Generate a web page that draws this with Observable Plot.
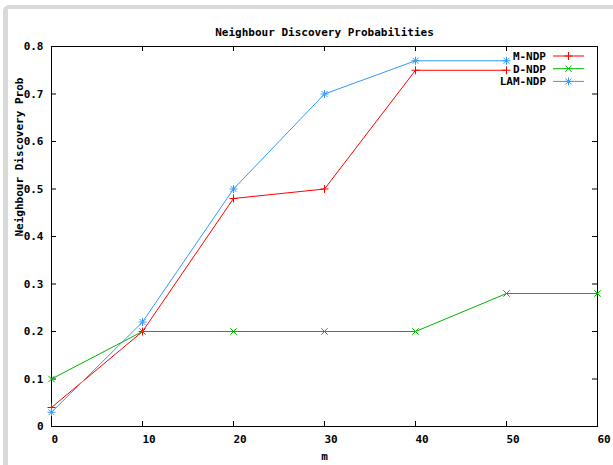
<!DOCTYPE html>
<html>
<head>
<meta charset="utf-8">
<script src="https://cdn.jsdelivr.net/npm/d3@7"></script>
<script src="https://cdn.jsdelivr.net/npm/@observablehq/plot@0.6"></script>
<style>
  html, body { margin: 0; padding: 0; background: #fff; }
  #wrap { position: relative; width: 613px; height: 465px; overflow: hidden; background: #fff; }
  #border { position: absolute; left: 3px; top: 5px; width: 640px; height: 500px;
    border-top: 4px solid #d9d9d9; border-left: 5px solid #d9d9d9; border-top-left-radius: 6px; box-sizing: border-box; }
  #chart { position: absolute; left: 0; top: 0; }
  #legend { position: absolute; left: 0; top: 0; }
</style>
</head>
<body>
<div id="wrap">
  <div id="border"></div>
  <div id="chart"></div>
  <svg id="legend" width="613" height="465"></svg>
</div>
<script>
const titleText = "Neighbour Discovery Probabilities";
const xLabel = "m";
const yLabel = "Neighbour Discovery Prob";
const seriesNames = ["M-NDP", "D-NDP", "LAM-NDP"];
const seriesColors = ["#ff0000", "#00b400", "#3399ff"];
const xTicks = [0, 10, 20, 30, 40, 50, 60];
const yTicks = [0, 0.1, 0.2, 0.3, 0.4, 0.5, 0.6, 0.7, 0.8];
const yTickLabels = ["0", "0.1", "0.2", "0.3", "0.4", "0.5", "0.6", "0.7", "0.8"];

const mX = [0, 10, 20, 30, 40, 50];
const mNDP = [0.04, 0.2, 0.48, 0.5, 0.75, 0.75];
const dX = [0, 10, 20, 30, 40, 50, 60];
const dNDP = [0.1, 0.2, 0.2, 0.2, 0.2, 0.28, 0.28];
const lamX = [0, 10, 20, 30, 40, 50];
const lamNDP = [0.03, 0.22, 0.5, 0.7, 0.77, 0.77];

const symPlus = { draw(c) { const r = 4; c.moveTo(-r, 0); c.lineTo(r, 0); c.moveTo(0, -r); c.lineTo(0, r); } };
const symTimes = { draw(c) { const r = 3.2; c.moveTo(-r, -r); c.lineTo(r, r); c.moveTo(-r, r); c.lineTo(r, -r); } };
const symAst = { draw(c) { const r = 4, s = 3; c.moveTo(-r, 0); c.lineTo(r, 0); c.moveTo(0, -r); c.lineTo(0, r);
  c.moveTo(-s, -s); c.lineTo(s, s); c.moveTo(-s, s); c.lineTo(s, -s); } };
const symbols = [symPlus, symTimes, symAst];

const seriesData = [
  mX.map((x, i) => ({x, y: mNDP[i]})),
  dX.map((x, i) => ({x, y: dNDP[i]})),
  lamX.map((x, i) => ({x, y: lamNDP[i]}))
];

const W = 613, H = 465, mL = 51, mR = 16, mT = 46, mB = 39;
const pw = W - mL - mR, ph = H - mT - mB;
const font = "DejaVu Sans Mono, monospace";
const fs = "11px";

const marks = [
  Plot.frame({stroke: "#000", strokeWidth: 1}),
  // inward ticks
  Plot.tickX(xTicks.slice(1, -1), {x: d => d, insetTop: ph - 5, stroke: "#000"}),
  Plot.tickX(xTicks.slice(1, -1), {x: d => d, insetBottom: ph - 5, stroke: "#000"}),
  Plot.tickY(yTicks.slice(1, -1), {y: d => d, insetRight: pw - 5, stroke: "#000"}),
  Plot.tickY(yTicks.slice(1, -1), {y: d => d, insetLeft: pw - 5, stroke: "#000"}),
  // tick labels
  Plot.text(xTicks, {x: d => d, text: d => String(d), frameAnchor: "bottom", dy: 9, lineAnchor: "top", textAnchor: "start", dx: 0}),
  Plot.text(yTicks, {y: d => d, text: (d, i) => yTickLabels[i], frameAnchor: "left", dx: -8, textAnchor: "end"}),
  // titles
  Plot.text([titleText], {frameAnchor: "top", dy: -18}),
  Plot.text([xLabel], {frameAnchor: "bottom", dy: 33}),
  Plot.text([yLabel], {frameAnchor: "left", dx: -32, rotate: -90})
];
seriesData.forEach((data, i) => {
  marks.push(Plot.line(data, {x: "x", y: "y", stroke: seriesColors[i], strokeWidth: 1}));
  marks.push(Plot.dot(data, {x: "x", y: "y", stroke: seriesColors[i], symbol: symbols[i], r: 4, strokeWidth: 1}));
});

const chart = Plot.plot({
  width: W, height: H,
  marginLeft: mL, marginRight: mR, marginTop: mT, marginBottom: mB,
  style: {fontFamily: font, fontWeight: "bold", fontSize: fs, background: "transparent", color: "#000", overflow: "visible"},
  x: {domain: [0, 60], axis: null},
  y: {domain: [0, 0.8], axis: null},
  marks
});
document.getElementById("chart").appendChild(chart);

// legend (inside top-right of the plot)
const lg = d3.select("#legend");
seriesNames.forEach((name, i) => {
  const y = 56 + i * 12.7;
  lg.append("text").attr("x", 546).attr("y", y).attr("dy", "0.35em").attr("text-anchor", "end")
    .attr("font-family", font).attr("font-weight", "bold").attr("font-size", fs).text(name);
  lg.append("line").attr("x1", 553).attr("x2", 584).attr("y1", y).attr("y2", y)
    .attr("stroke", seriesColors[i]).attr("stroke-width", 1);
  lg.append("path").attr("d", d3.symbol().type(symbols[i])()).attr("transform", `translate(568.5,${y})`)
    .attr("stroke", seriesColors[i]).attr("fill", "none").attr("stroke-width", 1);
});
</script>
</body>
</html>
